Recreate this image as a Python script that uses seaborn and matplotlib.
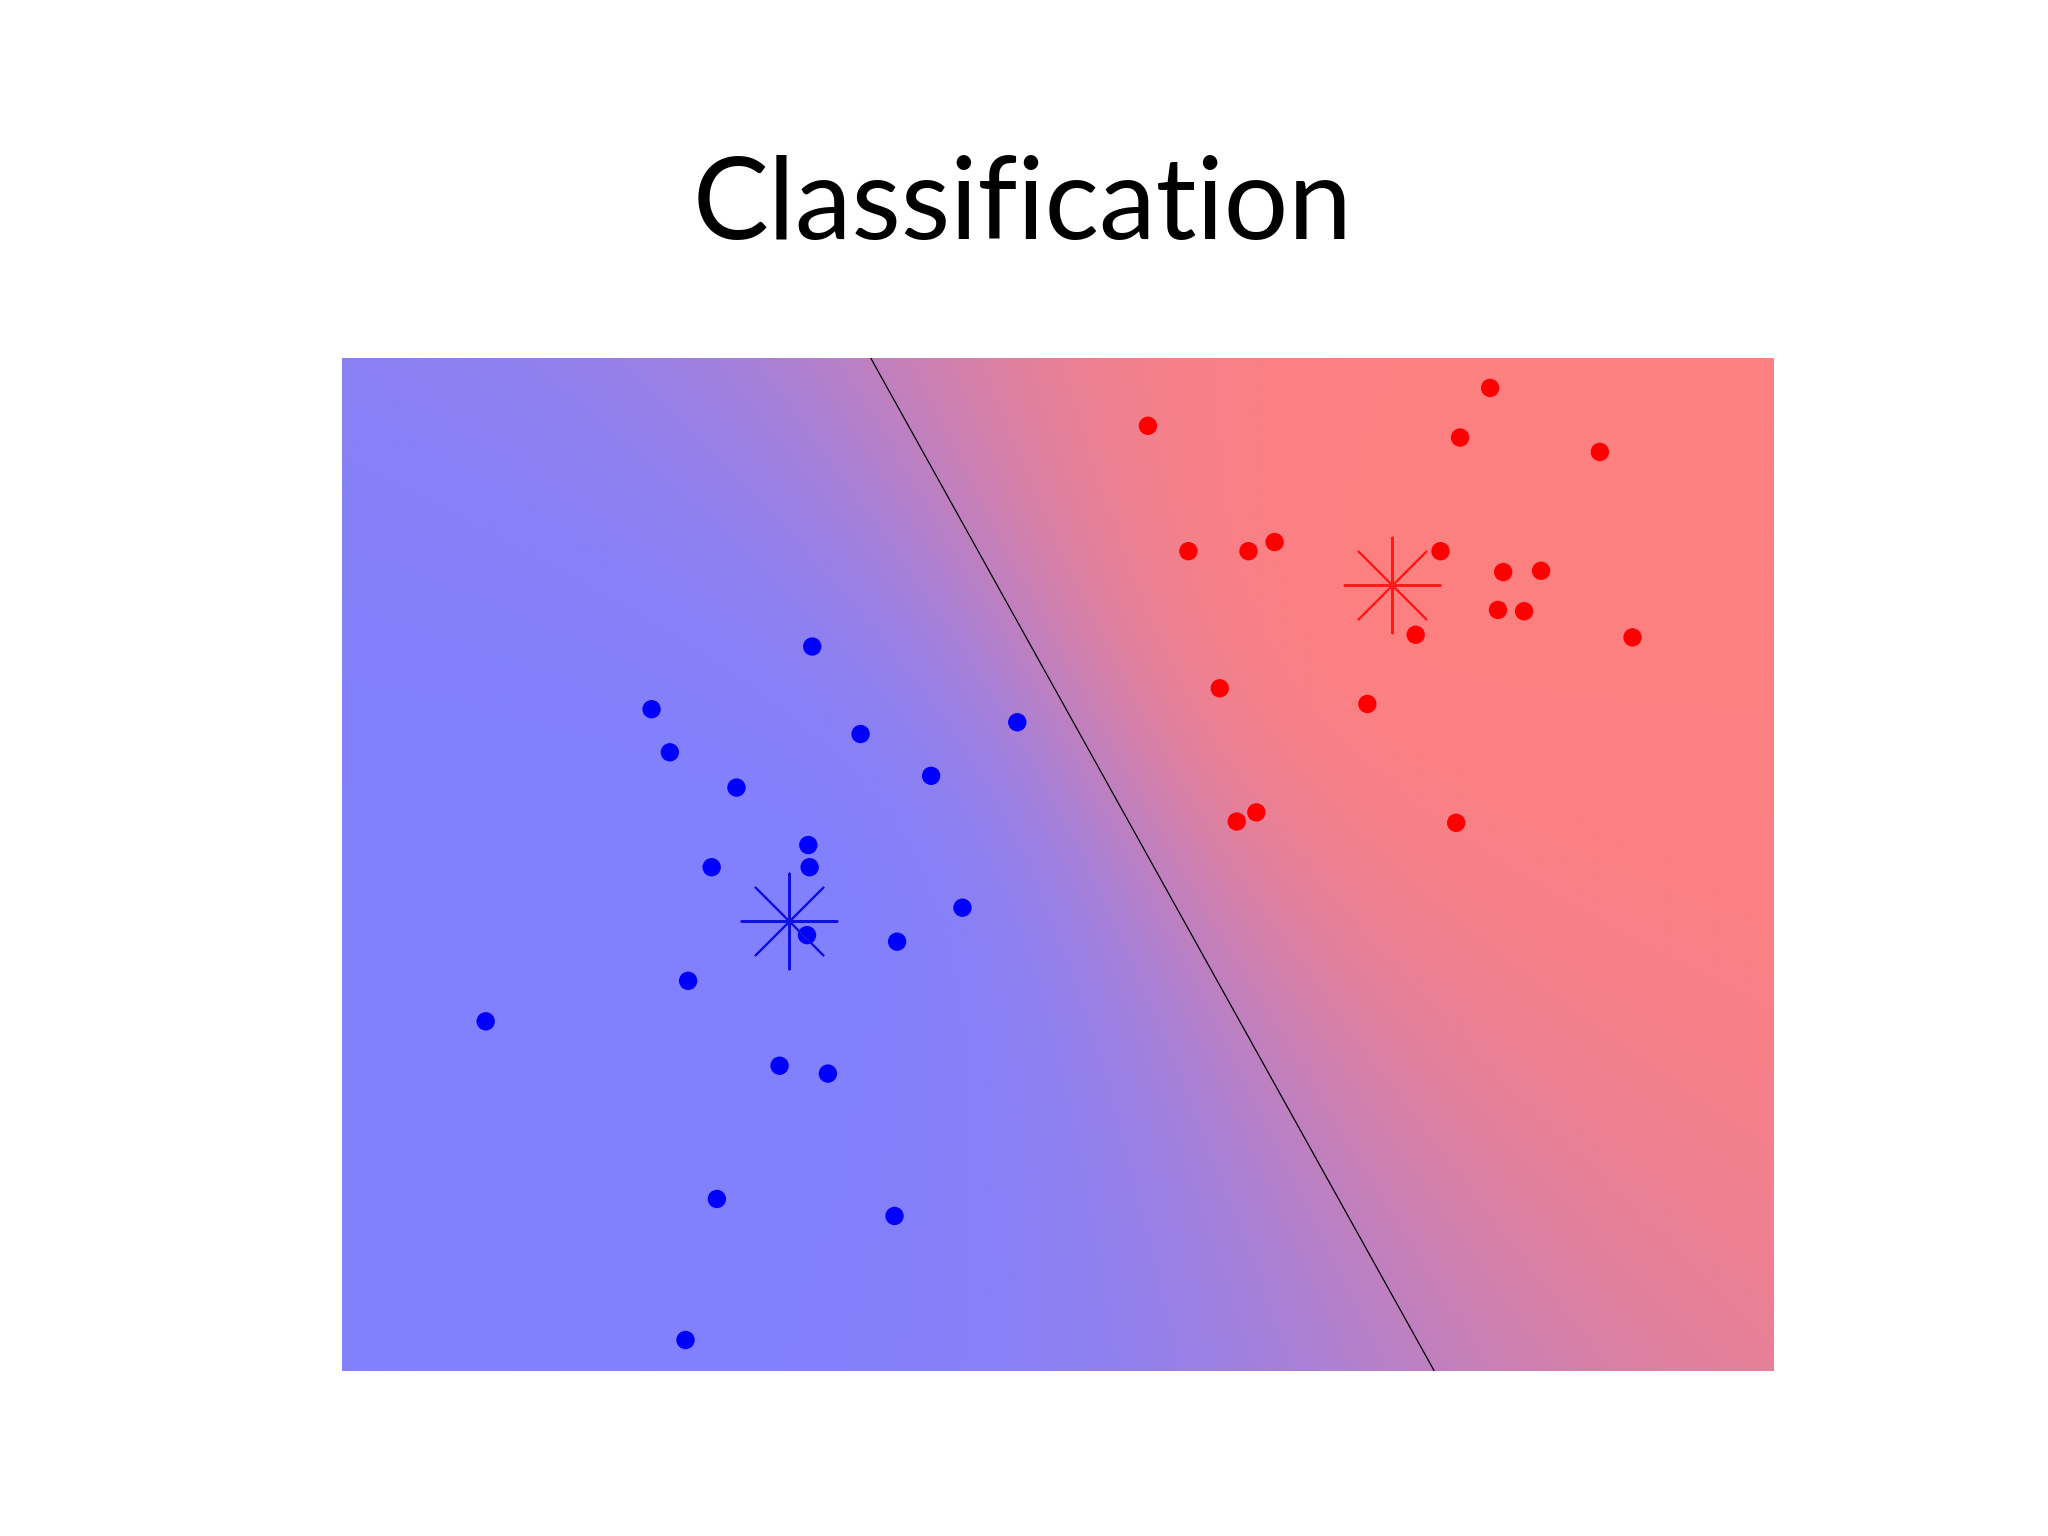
import numpy as np
import pandas as pd
import matplotlib
matplotlib.use("Agg")
import matplotlib.pyplot as plt
import seaborn as sns

# ---- data ----
blue_x = [3.60, 2.37, 2.51, 3.02, 3.97, 4.51, 5.17, 3.57, 3.58, 2.83,
          4.75, 3.56, 4.25, 2.65, 1.10, 3.35, 3.72, 2.87, 4.23, 2.63]
blue_y = [5.55, 5.07, 4.74, 4.47, 4.88, 4.56, 4.97, 4.03, 3.86, 3.86,
          3.55, 3.34, 3.29, 2.99, 2.68, 2.34, 2.28, 1.32, 1.19, 0.24]
red_x = [8.79, 6.17, 8.56, 9.63, 6.48, 6.94, 7.14, 8.41, 8.89, 9.18,
         8.85, 9.05, 8.22, 9.88, 6.72, 7.85, 7.00, 6.85, 8.53]
red_y = [7.53, 7.24, 7.15, 7.04, 6.28, 6.28, 6.35, 6.28, 6.12, 6.13,
         5.83, 5.82, 5.64, 5.62, 5.23, 5.11, 4.28, 4.21, 4.20]
centroid_class = ["blue", "red"]
centroid_x = [3.42, 8.04]
centroid_y = [3.45, 6.02]
title = "Classification"

XMAX, YMAX = 10.96, 7.76

sns.set_style("white")
plt.rcParams["font.family"] = ["Lato", "DejaVu Sans"]

fig = plt.figure(figsize=(20.48, 15.36), dpi=100)
ax = fig.add_axes([0.1670, 0.1072, 0.6990, 0.6598])

# soft background from distances to the two centroids
gx = np.linspace(0, XMAX, 550)
gy = np.linspace(0, YMAX, 390)
GX, GY = np.meshgrid(gx, gy)
db = np.hypot(GX - centroid_x[0], GY - centroid_y[0])
dr = np.hypot(GX - centroid_x[1], GY - centroid_y[1])
T = 1.12
p_red = 1.0 / (1.0 + np.exp(-(db - dr) / T))
blue_c = np.array([128, 128, 255]) / 255.0
red_c = np.array([255, 128, 128]) / 255.0
img = blue_c[None, None, :] * (1 - p_red[..., None]) + red_c[None, None, :] * p_red[..., None]
ax.imshow(img, extent=[0, XMAX, 0, YMAX], origin="lower", aspect="auto",
          interpolation="bilinear", zorder=0)

# decision boundary: perpendicular bisector of the centroids
cb = np.array([centroid_x[0], centroid_y[0]])
cr = np.array([centroid_x[1], centroid_y[1]])
m = (cb + cr) / 2
d = cr - cb
ys = np.array([0, YMAX])
xs = m[0] - d[1] * (ys - m[1]) / d[0]
ax.plot(xs, ys, color="black", lw=0.9, zorder=2)

df = pd.DataFrame({
    "x": blue_x + red_x,
    "y": blue_y + red_y,
    "cls": ["blue"] * len(blue_x) + ["red"] * len(red_x),
})
sns.scatterplot(data=df, x="x", y="y", hue="cls",
                palette={"blue": "#0000ff", "red": "#ff0000"},
                s=175, linewidth=0, legend=False, ax=ax, zorder=3)

cent = pd.DataFrame({"x": centroid_x, "y": centroid_y, "cls": centroid_class})
for _, r in cent.iterrows():
    ax.scatter(r["x"], r["y"], marker=(8, 2, 0), s=69 ** 2,
               color="#ff1a1a" if r["cls"] == "red" else "#1010e0",
               linewidths=1.5, zorder=4)

ax.set_xlim(0, XMAX)
ax.set_ylim(0, YMAX)
ax.set_xticks([])
ax.set_yticks([])
ax.set_xlabel("")
ax.set_ylabel("")
for s in ax.spines.values():
    s.set_visible(False)

fig.text(1023 / 2048, 1 - 207 / 1536, title, ha="center", va="center",
         fontsize=82, color="black")

fig.savefig("out.png", dpi=100, facecolor="white")
